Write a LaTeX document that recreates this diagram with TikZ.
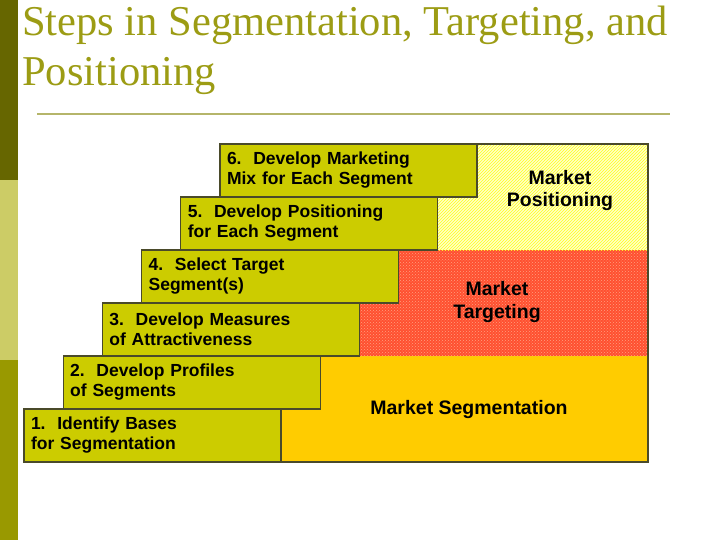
\documentclass[tikz,border=0pt]{standalone}
\usepackage{fontspec}
\setmainfont{Liberation Serif}
\newfontfamily\arialfont{Liberation Sans}
\usetikzlibrary{positioning,patterns,backgrounds}

\definecolor{stepfill}{HTML}{CCCC00}
\definecolor{stepline}{HTML}{4A4A2A}
\definecolor{titlecol}{HTML}{9C9C14}
\definecolor{rulecol}{HTML}{B5B56A}
\definecolor{bardark}{HTML}{666600}
\definecolor{barlight}{HTML}{CCCC66}
\definecolor{barmid}{HTML}{999900}
\definecolor{posfill}{HTML}{FFFFC8}
\definecolor{posline}{HTML}{FFFF1A}
\definecolor{tgtfill}{HTML}{FF5030}
\definecolor{tgtdot}{HTML}{FFA080}
\definecolor{segfill}{HTML}{FFCC00}

\tikzset{
  stepbox/.style={draw=stepline, line width=1.2pt, fill=stepfill,
    minimum width=257pt, minimum height=53pt, text width=243pt,
    inner xsep=7pt, outer sep=0pt, align=left,
    font=\arialfont\bfseries\fontsize{17.5}{20}\selectfont},
  region/.style={align=center,
    font=\arialfont\bfseries\fontsize{19.5}{22}\selectfont},
  title/.style={text=titlecol, inner sep=0pt, anchor=base west,
    font=\fontsize{42.5}{50}\selectfont}
}

\begin{document}
\begin{tikzpicture}[x=1pt,y=-1pt]

  \useasboundingbox (0,0) rectangle (720,540);

  % side bar
  \fill[bardark]  (0,0)   rectangle (18,180);
  \fill[barlight] (0,180) rectangle (18,360);
  \fill[barmid]   (0,360) rectangle (18,540);

  \node[title] (t_1) at (22,36) {Steps in Segmentation, Targeting, and};
  \node[title] (t_2) at (22,86) {Positioning};

  \coordinate (r_l) at (37,114);
  \coordinate (r_r) at (670,114);
  \draw[rulecol, line width=2pt] (r_l) -- (r_r);

  % the steps
  \node[stepbox, anchor=north west] (s_1) at (24,409) {1.\ \ Identify Bases\\for Segmentation};
  \node[stepbox] (s_2) [above right=0pt and 39.2pt of s_1.north west] {2.\ \ Develop Profiles\\of Segments};
  \node[stepbox] (s_3) [above right=0pt and 39.2pt of s_2.north west] {3.\ \ Develop Measures\\of Attractiveness};
  \node[stepbox] (s_4) [above right=0pt and 39.2pt of s_3.north west] {4.\ \ Select Target\\Segment(s)};
  \node[stepbox] (s_5) [above right=0pt and 39.2pt of s_4.north west] {5.\ \ Develop Positioning\\for Each Segment};
  \node[stepbox] (s_6) [above right=0pt and 39.2pt of s_5.north west] {6.\ \ Develop Marketing\\Mix for Each Segment};

  \coordinate (edge) at (648,144);

  \begin{pgfonlayer}{background}
    \fill[segfill] (s_1.south east) rectangle (s_2.north -| edge);
    \path[preaction={fill=tgtfill}, pattern=crosshatch dots, pattern color=tgtdot]
      (s_3.south east) rectangle (s_4.north -| edge);
    \path[preaction={fill=posfill}, pattern=north east lines, pattern color=posline]
      (s_5.south east) rectangle (s_6.north -| edge);
  \end{pgfonlayer}

  \draw[stepline, line width=1.2pt] (s_6.north east) -- (s_6.north -| edge)
    -- (s_1.south -| edge) -- (s_1.south east);

  \node[region] (seg) at (469,409) {Market Segmentation};
  \node[region] (tgt) at (497,302) {Market\\Targeting};
  \node[region] (pos) at (560,191) {Market\\Positioning};

\end{tikzpicture}
\end{document}
